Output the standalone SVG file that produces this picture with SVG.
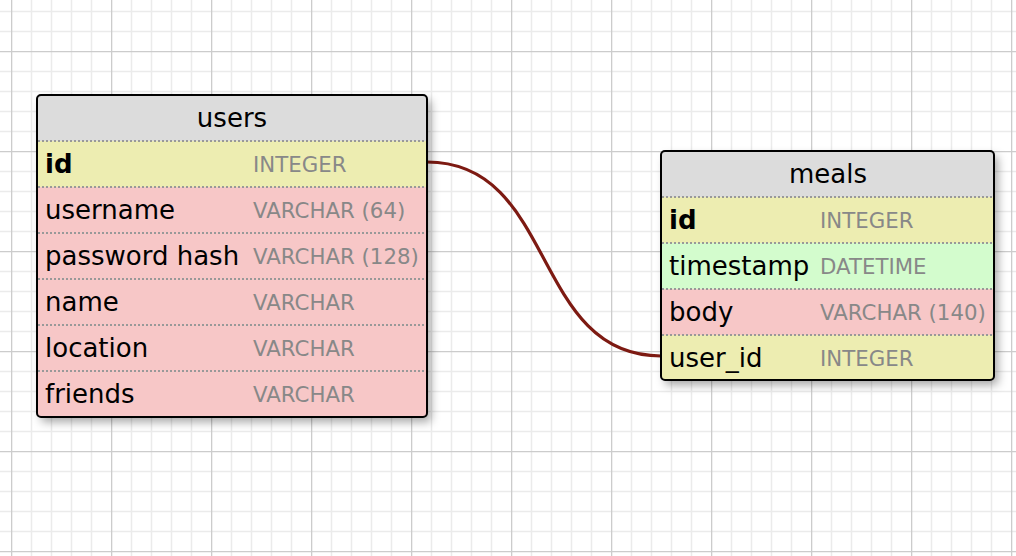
<svg xmlns="http://www.w3.org/2000/svg" width="1016" height="556" viewBox="0 0 1016 556">
<defs>
<pattern id="grid" x="11" y="51" width="100" height="100" patternUnits="userSpaceOnUse">
<path d="M20.5,0V100M40.5,0V100M60.5,0V100M80.5,0V100M0,20.5H100M0,40.5H100M0,60.5H100M0,80.5H100" stroke="#ebebeb" stroke-width="1.5" fill="none"/>
<path d="M0.5,0V100M0,0.5H100" stroke="#cccccc" stroke-width="1.6" fill="none"/>
</pattern>
<filter id="shadow" x="-10%" y="-10%" width="130%" height="130%">
<feDropShadow dx="4" dy="5" stdDeviation="5" flood-color="#000" flood-opacity="0.35"/>
</filter>
</defs>
<style>
.hdr{fill:#dcdcdc}
.pk{fill:#ededb1}
.fld{fill:#f7c7c7}
.grn{fill:#d3fccd}
.sep{stroke:#999;stroke-width:2;stroke-dasharray:2 2;fill:none}
.frame{fill:none;stroke:#000;stroke-width:2}
.title{font-family:"DejaVu Sans",sans-serif;font-size:26px;fill:#000;text-anchor:middle}
.nm{font-family:"DejaVu Sans",sans-serif;font-size:26px;fill:#000}
.b{font-weight:bold}
.ty{font-family:"DejaVu Sans",sans-serif;font-size:21.3px;fill:#888}
</style>
<rect width="1016" height="556" fill="#fff"/>
<rect width="1016" height="556" fill="url(#grid)"/>

<g id="connectors">
<path d="M427,162 C557,162 531,356 661,356" fill="none" stroke="#7d1a12" stroke-width="3.2"/>
</g>

<g id="users">
<g filter="url(#shadow)">
<rect x="37" y="95" width="390" height="322" rx="4" fill="#dcdcdc"/>
</g>
<path class="hdr" d="M41,95H423A4,4 0 0 1 427,99V141H37V99A4,4 0 0 1 41,95Z"/>
<rect class="pk" x="37" y="141" width="390" height="46"/>
<rect class="fld" x="37" y="187" width="390" height="46"/>
<rect class="fld" x="37" y="233" width="390" height="46"/>
<rect class="fld" x="37" y="279" width="390" height="46"/>
<rect class="fld" x="37" y="325" width="390" height="46"/>
<path class="fld" d="M37,371H427V413A4,4 0 0 1 423,417H41A4,4 0 0 1 37,413Z"/>
<path class="sep" d="M38,141H426M38,187H426M38,233H426M38,279H426M38,325H426M38,371H426"/>
<rect class="frame" x="37" y="95" width="390" height="322" rx="4"/>
<text class="title" x="232" y="127">users</text>
<text class="nm b" x="45" y="173">id</text><text class="ty" x="253" y="172">INTEGER</text>
<text class="nm" x="45" y="219">username</text><text class="ty" x="253" y="218">VARCHAR (64)</text>
<text class="nm" x="45" y="265">password hash</text><text class="ty" x="253" y="264">VARCHAR (128)</text>
<text class="nm" x="45" y="311">name</text><text class="ty" x="253" y="310">VARCHAR</text>
<text class="nm" x="45" y="357">location</text><text class="ty" x="253" y="356">VARCHAR</text>
<text class="nm" x="45" y="403">friends</text><text class="ty" x="253" y="402">VARCHAR</text>
</g>

<g id="meals">
<g filter="url(#shadow)">
<rect x="661" y="151" width="333" height="229" rx="4" fill="#dcdcdc"/>
</g>
<path class="hdr" d="M665,151H990A4,4 0 0 1 994,155V197H661V155A4,4 0 0 1 665,151Z"/>
<rect class="pk" x="661" y="197" width="333" height="46"/>
<rect class="grn" x="661" y="243" width="333" height="46"/>
<rect class="fld" x="661" y="289" width="333" height="46"/>
<path class="pk" d="M661,335H994V376A4,4 0 0 1 990,380H665A4,4 0 0 1 661,376Z"/>
<path class="sep" d="M662,197H993M662,243H993M662,289H993M662,335H993"/>
<rect class="frame" x="661" y="151" width="333" height="229" rx="4"/>
<text class="title" x="828" y="183">meals</text>
<text class="nm b" x="669" y="229">id</text><text class="ty" x="820" y="228">INTEGER</text>
<text class="nm" x="669" y="275">timestamp</text><text class="ty" x="820" y="274">DATETIME</text>
<text class="nm" x="669" y="321">body</text><text class="ty" x="820" y="320">VARCHAR (140)</text>
<text class="nm" x="669" y="367">user_id</text><text class="ty" x="820" y="366">INTEGER</text>
</g>
</svg>
